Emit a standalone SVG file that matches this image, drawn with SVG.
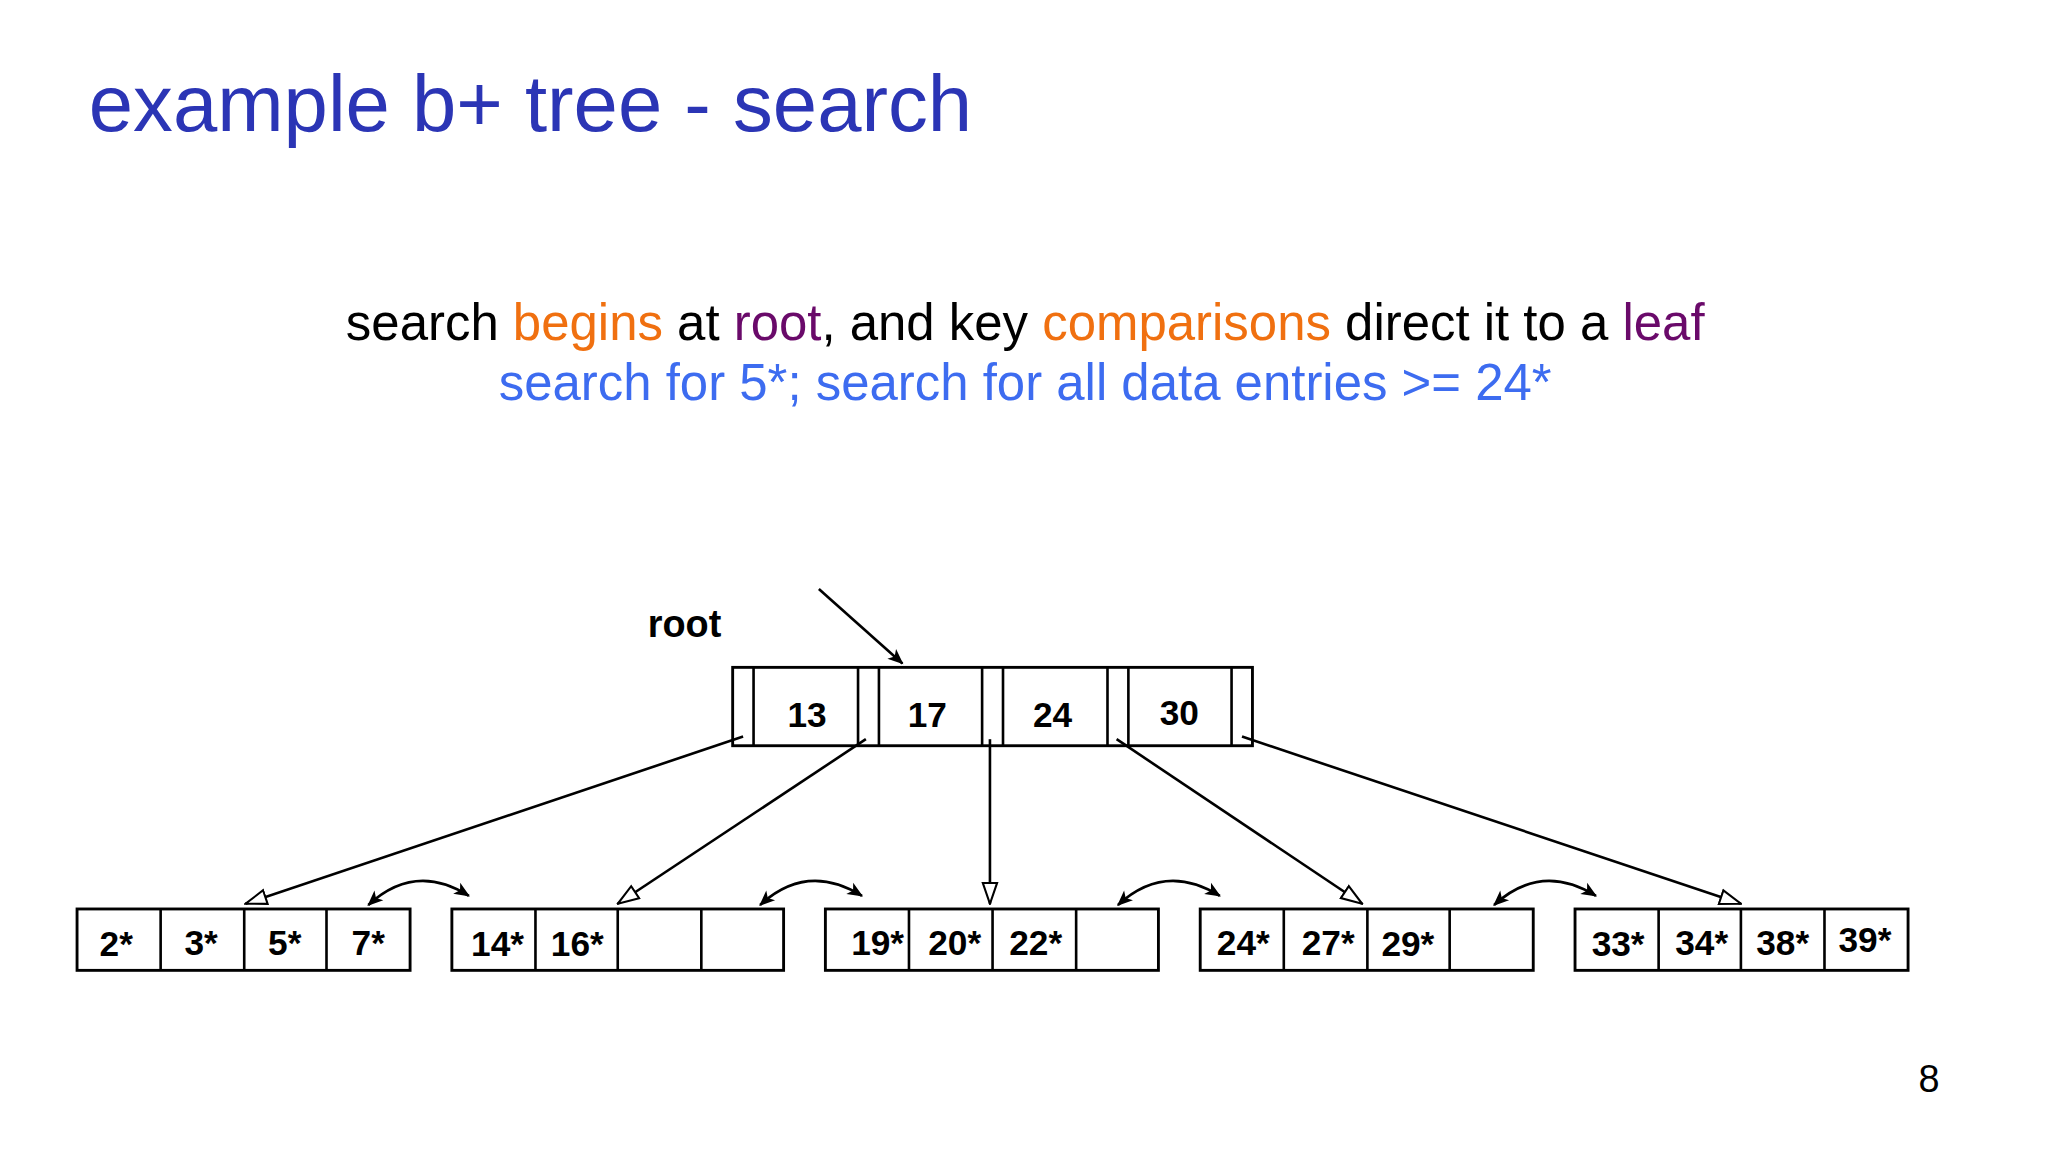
<svg xmlns="http://www.w3.org/2000/svg" width="2048" height="1152" viewBox="0 0 2048 1152">
<style>
.b{fill:#fff;stroke:#000;stroke-width:2.2}
.k{font-family:"Liberation Sans",Arial,sans-serif;font-weight:bold;font-size:27px;text-anchor:middle;fill:#000}
.c{stroke:#000;stroke-width:2;fill:none}
</style>
<defs>
<marker id="tri" markerWidth="18" markerHeight="14" refX="17" refY="7" orient="auto" markerUnits="userSpaceOnUse"><path d="M1,1.5 L17,7 L1,12.5 Z" fill="#fff" stroke="#000" stroke-width="1.6"/></marker>
<marker id="ar" markerWidth="14" markerHeight="12" refX="12" refY="6" orient="auto" markerUnits="userSpaceOnUse"><path d="M1,1 L13,6 L1,11 L4,6 Z" fill="#000"/></marker>
<marker id="ars" markerWidth="14" markerHeight="12" refX="12" refY="6" orient="auto-start-reverse" markerUnits="userSpaceOnUse"><path d="M1,1 L13,6 L1,11 L4,6 Z" fill="#000"/></marker>
</defs>
<rect width="2048" height="1152" fill="#fff"/>
<g transform="scale(1.306)">
<text x="68" y="100" font-family="Liberation Sans,Arial,sans-serif" font-size="61" fill="#2b35b5">example b+ tree - search</text>
<text x="785" y="260" font-family="Liberation Sans,Arial,sans-serif" font-size="39" text-anchor="middle" fill="#000">search <tspan fill="#f07010">begins</tspan> at <tspan fill="#6a0a6a">root</tspan>, and key <tspan fill="#f07010">comparisons</tspan> direct it to a <tspan fill="#6a0a6a">leaf</tspan></text>
<text x="785" y="306" font-family="Liberation Sans,Arial,sans-serif" font-size="39" text-anchor="middle" fill="#3d6cf0">search for 5*; search for all data entries &gt;= 24*</text>
<text x="496" y="488" font-family="Liberation Sans,Arial,sans-serif" font-weight="bold" font-size="29">root</text>
<text x="1477" y="836" font-family="Liberation Sans,Arial,sans-serif" font-size="29" text-anchor="middle">8</text>

<g id="root">
<rect class="b" x="561" y="511" width="398" height="60"/>
<path class="c" d="M577,511V571M657,511V571M673,511V571M752,511V571M768,511V571M848,511V571M864,511V571M943,511V571"/>
<text class="k" x="618" y="557">13</text><text class="k" x="710" y="557">17</text><text class="k" x="806" y="557">24</text><text class="k" x="903" y="555">30</text>
</g>
<g id="leaf1"><rect class="b" x="59" y="696" width="255" height="47"/><path class="c" d="M123,696V743M187,696V743M250,696V743"/>
<text class="k" x="89" y="732">2*</text><text class="k" x="154" y="731">3*</text><text class="k" x="218" y="731">5*</text><text class="k" x="282" y="731">7*</text></g>
<g id="leaf2"><rect class="b" x="346" y="696" width="254" height="47"/><path class="c" d="M410,696V743M473,696V743M537,696V743"/>
<text class="k" x="381" y="732">14*</text><text class="k" x="442" y="732">16*</text></g>
<g id="leaf3"><rect class="b" x="632" y="696" width="255" height="47"/><path class="c" d="M696,696V743M760,696V743M824,696V743"/>
<text class="k" x="672" y="731">19*</text><text class="k" x="731" y="731">20*</text><text class="k" x="793" y="731">22*</text></g>
<g id="leaf4"><rect class="b" x="919" y="696" width="255" height="47"/><path class="c" d="M983,696V743M1047,696V743M1110,696V743"/>
<text class="k" x="952" y="731">24*</text><text class="k" x="1017" y="731">27*</text><text class="k" x="1078" y="732">29*</text></g>
<g id="leaf5"><rect class="b" x="1206" y="696" width="255" height="47"/><path class="c" d="M1270,696V743M1333,696V743M1397,696V743"/>
<text class="k" x="1239" y="732">33*</text><text class="k" x="1303" y="731">34*</text><text class="k" x="1365" y="731">38*</text><text class="k" x="1428" y="729">39*</text></g>

<g id="connectors">
<line class="c" x1="627" y1="451" x2="691" y2="508" marker-end="url(#ar)"/>
<line class="c" x1="569" y1="564" x2="188" y2="692" marker-end="url(#tri)"/>
<line class="c" x1="663" y1="566" x2="473" y2="692" marker-end="url(#tri)"/>
<line class="c" x1="758" y1="566" x2="758" y2="692" marker-end="url(#tri)"/>
<line class="c" x1="855" y1="566" x2="1043" y2="692" marker-end="url(#tri)"/>
<line class="c" x1="951" y1="564" x2="1333" y2="692" marker-end="url(#tri)"/>
<path class="c" d="M282,693 Q318,660 359,686" marker-start="url(#ars)" marker-end="url(#ar)"/>
<path class="c" d="M582,693 Q618,660 660,686" marker-start="url(#ars)" marker-end="url(#ar)"/>
<path class="c" d="M856,693 Q892,660 934,686" marker-start="url(#ars)" marker-end="url(#ar)"/>
<path class="c" d="M1144,693 Q1180,660 1222,686" marker-start="url(#ars)" marker-end="url(#ar)"/>
</g>
</g>
</svg>
